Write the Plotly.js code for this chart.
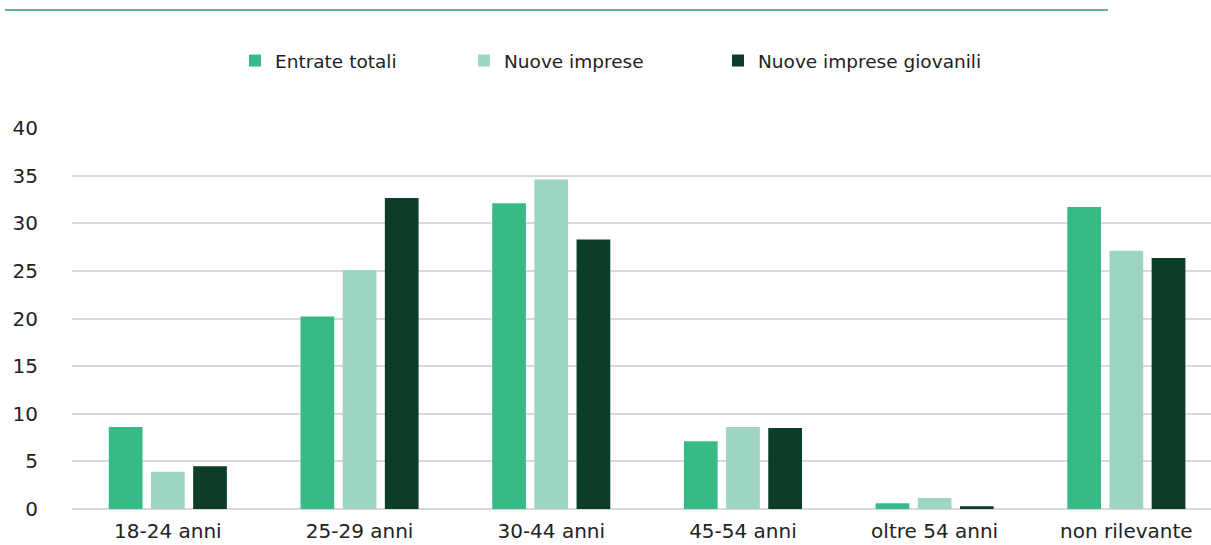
<!DOCTYPE html>
<html><head><meta charset="utf-8">
<script src="https://cdn.plot.ly/plotly-3.0.1.min.js"></script>
<style>html,body{margin:0;padding:0;background:#fff}#chart{width:1211px;height:545px}</style>
</head><body><div id="chart"></div>
<script>
const categories = ["18-24 anni","25-29 anni","30-44 anni","45-54 anni","oltre 54 anni","non rilevante"];
const entrateTotali = [8.6, 20.2, 32.1, 7.1, 0.6, 31.7];
const nuoveImprese = [3.9, 25.1, 34.6, 8.6, 1.15, 27.1];
const nuoveImpreseGiovanili = [4.5, 32.65, 28.3, 8.5, 0.3, 26.35];
const seriesNames = ["Entrate totali","Nuove imprese","Nuove imprese giovanili"];
const colors = ["#38ba86","#9dd5c1","#0c3d28"];

const L = 72, W = 1211;
const catW = 191.7;
const legendIds = ['legend','legend2','legend3'];
const legendX = [249, 478, 732];
const traces = [entrateTotali, nuoveImprese, nuoveImpreseGiovanili].map((v,i)=>({
  type:'bar', x:categories, y:v, name:seriesNames[i], legend:legendIds[i],
  marker:{color:colors[i], line:{width:0}}
}));
const FONT = '"DejaVu Sans", "Open Sans", sans-serif';
function leg(i){
  return {orientation:'h', x:(legendX[i]-14)/W, xanchor:'left', xref:'container',
          y:(545-61)/545, yref:'container', yanchor:'middle',
          bgcolor:'rgba(0,0,0,0)', font:{size:18.5, color:'#222', family:FONT}, itemwidth:30};
}
const layout = {
  width:1211, height:545,
  margin:{l:L, r:0, t:128, b:36},
  paper_bgcolor:'#fff', plot_bgcolor:'#fff',
  font:{family:FONT, color:'#222', size:20},
  barmode:'group', bargap:0.34, bargroupgap:0.2,
  showlegend:true,
  legend:leg(0), legend2:leg(1), legend3:leg(2),
  xaxis:{type:'category', range:[-0.5, -0.5 + (W-L)/catW], showgrid:false, zeroline:false,
         showline:false, ticks:'', tickfont:{size:20, color:'#222'}, ticklabelstandoff:8, fixedrange:true},
  yaxis:{range:[0,40], dtick:5, tick0:0, showgrid:true, gridcolor:'#d9d9d9', gridwidth:2,
         zeroline:true, zerolinecolor:'#d9d9d9', zerolinewidth:2, showline:false, ticks:'',
         tickfont:{size:20, color:'#222'}, ticklabelstandoff:33, fixedrange:true},
  shapes:[{type:'line', xref:'paper', yref:'paper', x0:(5-L)/(W-L), x1:(1108-L)/(W-L),
           y0:(545-36-10)/(545-36-128), y1:(545-36-10)/(545-36-128),
           line:{color:'#6aae94', width:2}}]
};
Plotly.newPlot('chart', traces, layout, {displayModeBar:false, staticPlot:true});
</script></body></html>
